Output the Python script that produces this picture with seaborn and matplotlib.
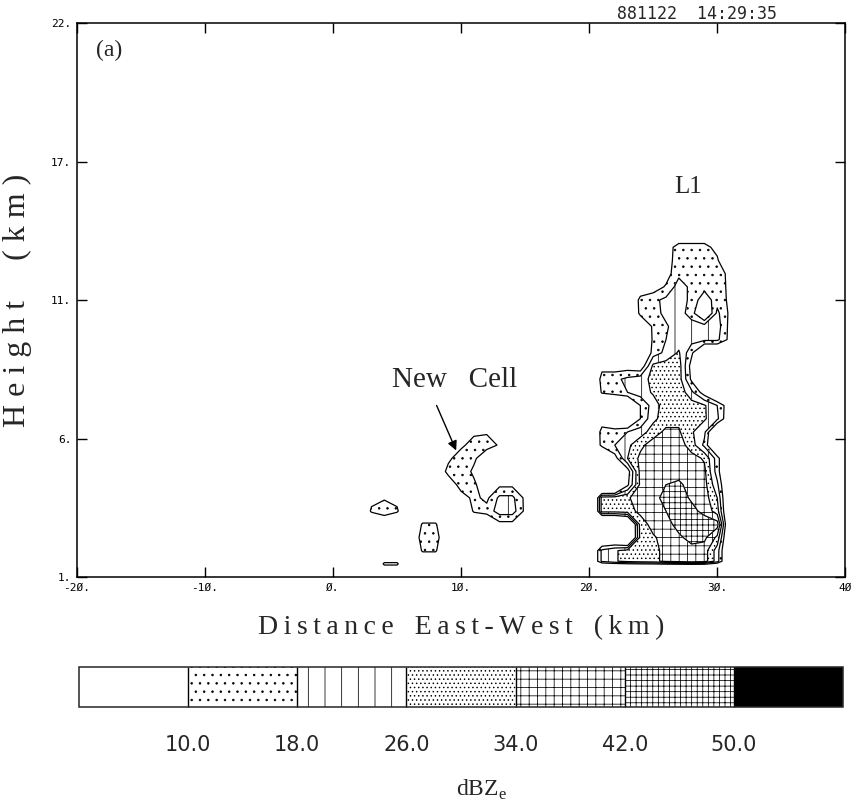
import numpy as np
import matplotlib
matplotlib.use("Agg")
import matplotlib.pyplot as plt
import seaborn as sns

# reflectivity classes (dBZe) and their shading
levels = [2, 10, 18, 26, 34, 42, 50, 58]
line_levels = [10, 18, 26, 34, 42, 50]
hatch_list = ["", "..", "|", "....", "++", "+++", ""]
fill_colors = ["white"] * 6 + ["black"]
cbar_ticks = [10, 18, 26, 34, 42, 50]
cbar_labels = ["10.0", "18.0", "26.0", "34.0", "42.0", "50.0"]

x_ticks = [-20, -10, 0, 10, 20, 30, 40]
x_ticklabels = ["-2Ø.", "-1Ø.", "Ø.", "1Ø.", "2Ø.", "3Ø.", "4Ø"]
y_ticks = [1.0, 6.25, 11.5, 16.75, 22.0]
y_ticklabels = ["1.", "6.", "11.", "17.", "22."]

# new cell + small echoes west of L1 (x in km, z in km), rows bottom -> top
new_cell_x = list(range(2, 17))
new_cell_z = [1.0, 1.5, 2.0, 2.5, 3.0, 3.5, 4.0, 4.5, 5.0, 5.5, 6.0, 6.5, 7.0]
new_cell_dbz = [
    [0, 0, 0, 0, 0, 0, 0, 0, 0, 0, 0, 0, 0, 0, 0],
    [0, 0, 11, 11, 0, 0, 0, 0, 0, 0, 0, 0, 0, 0, 0],
    [0, 0, 0, 0, 0, 11, 11, 0, 0, 0, 0, 0, 0, 0, 0],
    [0, 0, 0, 0, 0, 14, 14, 0, 0, 0, 0, 0, 0, 0, 0],
    [0, 0, 0, 0, 0, 11, 11, 0, 0, 0, 0, 7, 7, 0, 0],
    [0, 11, 15, 11, 0, 0, 0, 0, 0, 11, 13, 22, 22, 8, 0],
    [0, 8, 9, 8, 0, 0, 0, 0, 6, 12, 8, 20, 20, 8, 0],
    [0, 0, 0, 0, 0, 0, 0, 3, 14, 12, 2, 8, 8, 0, 0],
    [0, 0, 0, 0, 0, 0, 0, 13, 16, 8, 0, 0, 0, 0, 0],
    [0, 0, 0, 0, 0, 0, 0, 8, 15, 12, 2, 0, 0, 0, 0],
    [0, 0, 0, 0, 0, 0, 0, 0, 8, 14, 14, 9, 0, 0, 0],
    [0, 0, 0, 0, 0, 0, 0, 0, 0, 8, 9, 4, 0, 0, 0],
    [0, 0, 0, 0, 0, 0, 0, 0, 0, 0, 0, 0, 0, 0, 0],
]

# storm L1, rows bottom -> top
l1_x = list(range(19, 33))
l1_z = [1.0, 1.4, 1.6, 2.0, 2.5, 3.0, 3.5, 4.0, 4.5, 5.0, 5.5, 6.0, 6.5, 7.0,
        7.5, 8.0, 8.5, 9.0, 9.5, 10.0, 10.5, 11.0, 11.5, 12.0, 12.5, 13.0,
        13.5, 14.0]
l1_dbz = [
    [-10, -10, -10, -10, -10, -10, -10, -10, -10, -10, -10, -10, -10, -10],
    [-10, -10, -10, -10, -10, -10, -10, -10, -10, -10, -10, -10, -10, -10],
    [-10, -10, 20, 25, 29, 31, 32, 36, 38, 40, 38, 22, -10, -10],
    [-10, -10, 20, 25, 29, 31, 32, 36, 38, 40, 38, 22, -10, -10],
    [-10, -10, -10, -10, -20, 29, 33, 37, 41, 44, 44, 32, -10, -10],
    [-10, -30, -30, -30, -20, 30, 37, 40, 44, 45, 46, 46, -10, -10],
    [-10, -30, 30, 30, 31, 36, 40, 42, 45, 44, 40, 30, -10, -10],
    [-10, -30, 30, 31, 33, 38, 40, 44, 45, 41, 38, 26, -10, -10],
    [-10, -30, -30, -30, 8, 36, 38, 42, 43, 40, 37, 20, -10, -10],
    [-10, -30, -30, -30, 5, 37, 40, 40, 40, 39, 36, 14, -10, -10],
    [-10, -30, -30, 6, 26, 36, 38, 40, 39, 37, 33, 14, -10, -10],
    [-10, -20, 15, 18, 24, 32, 38, 40, 38, 30, 16, -10, -10, -10],
    [-10, -20, 16, 16, 18, 22, 30, 36, 35, 27, 20, -10, -10, -10],
    [-10, -20, 0, -10, -10, 10, 24, 30, 32, 31, 27, 20, 0, -10],
    [-10, -20, -20, -10, -10, 10, 22, 30, 32, 30, 27, 18, 3, -10],
    [-10, -20, 12, 14, 18, 22, 27, 32, 32, 20, 5, -10, -10, -10],
    [-10, -20, 16, 16, 20, 23, 28, 32, 30, 8, -10, -10, -10, -10],
    [-10, -10, 5, 5, 5, 2, 28, 30, 30, 6, -10, -10, -10, -10],
    [-10, -10, -10, -10, -10, -10, 14, 20, 27, 12, -10, -10, -10, -10],
    [-10, -10, -10, -10, -10, -10, 12, 18, 22, 21, 20, 20, 7, -10],
    [-10, -10, -10, -10, -10, -4, 12, 17, 22, 22, 22, 22, 7, -10],
    [-10, -10, -10, -10, -10, 13, 15, 20, 22, 14, -5, 20, 8, -10],
    [-10, -10, -10, -10, -10, 14, 16, 20, 22, 16, 4, 15, 8, -10],
    [-10, -10, -10, -10, -10, 0, 5, 11, 22, 16, 13, 14, 8, -10],
    [-10, -10, -10, -10, -10, -10, -10, 6, 16, 15, 15, 15, 7, -10],
    [-10, -10, -10, -10, -10, -10, -10, 5, 15, 15, 15, 12, -10, -10],
    [-10, -10, -10, -10, -10, -10, -10, 5, 14, 14, 14, 6, -10, -10],
    [0, 0, 0, 0, 0, 0, 0, 0, 0, 0, 0, 0, 0, 0],
]

# annotation anchors (km)
new_cell_text_xy = (9.5, 8.45)
new_cell_arrow_tail = (8.0, 7.6)
new_cell_arrow_head = (9.7, 5.7)
l1_text_xy = (27.7, 15.8)

sns.set_theme(style="ticks")
plt.rcParams["font.family"] = ["DejaVu Sans"]
# seaborn forces white patch edges, which also turns hatches white
plt.rcParams["patch.force_edgecolor"] = False
plt.rcParams["patch.edgecolor"] = "black"
plt.rcParams["hatch.linewidth"] = 0.55
plt.rcParams["hatch.color"] = "black"
serif = ["Liberation Serif", "DejaVu Serif"]
mono = ["DejaVu Sans Mono", "DejaVu Sans"]
thin = "\u2009"

fig = plt.figure(figsize=(8.57, 8.11), dpi=100)
ax = fig.add_axes([0.0898, 0.2885, 0.8965, 0.6831])

cf = None
for xs, zs, vals in [(new_cell_x, new_cell_z, new_cell_dbz), (l1_x, l1_z, l1_dbz)]:
    grid = np.array(vals, dtype=float)
    cf = ax.contourf(xs, zs, grid, levels=levels, colors=fill_colors, hatches=hatch_list)
    ax.contour(xs, zs, grid, levels=line_levels, colors="black", linewidths=0.9)

ax.set_xlim(-20, 40)
ax.set_ylim(1, 22)
ax.set_xticks(x_ticks)
ax.set_xticklabels(x_ticklabels, family=mono, fontsize=8)
ax.set_yticks(y_ticks)
ax.set_yticklabels(y_ticklabels, family=mono, fontsize=8)
ax.tick_params(direction="in", length=7, width=1, top=True, right=True, colors="black", pad=4)
for sp in ax.spines.values():
    sp.set_linewidth(1.1)
    sp.set_color("black")


def spaced(words, gap):
    return gap.join(thin.join(w) for w in words)


ax.set_xlabel(spaced(["Distance", "East-West", "(km)"], "   "), family=serif,
              fontsize=20, labelpad=16)
ax.set_ylabel(spaced(["Height", "(km)"], "     ").replace(thin, " "), family=serif,
              fontsize=23, labelpad=14)

ax.text(0.025, 0.951, "(a)", transform=ax.transAxes, family=serif, fontsize=17,
        va="center", ha="left")
ax.text(*l1_text_xy, "L1", family=serif, fontsize=18, ha="center", va="center")
ax.annotate("", xy=new_cell_arrow_head, xytext=new_cell_arrow_tail,
            arrowprops=dict(arrowstyle="-|>", color="black", lw=1.0, mutation_scale=14))
ax.text(*new_cell_text_xy, "New   Cell", family=serif, fontsize=21, ha="center", va="center")

fig.text(777 / 857, 1 - 19 / 811, "881122  14:29:35", family=mono, fontsize=12,
         ha="right", va="baseline")

cax = fig.add_axes([79 / 857, 104 / 811, 764 / 857, 40 / 811])
cbar = fig.colorbar(cf, cax=cax, orientation="horizontal", drawedges=True)
cbar.set_ticks(cbar_ticks, labels=cbar_labels)
cbar.ax.tick_params(length=0, labelsize=15, pad=20)
cbar.outline.set_linewidth(1.1)
cbar.dividers.set_linewidth(1.0)
cbar.dividers.set_color("black")
fig.text(481 / 857, 1 - 790 / 811, r"dBZ$_\mathregular{e}$", family=serif, fontsize=17,
         ha="center", va="center")

fig.savefig("out.png", dpi=100)
